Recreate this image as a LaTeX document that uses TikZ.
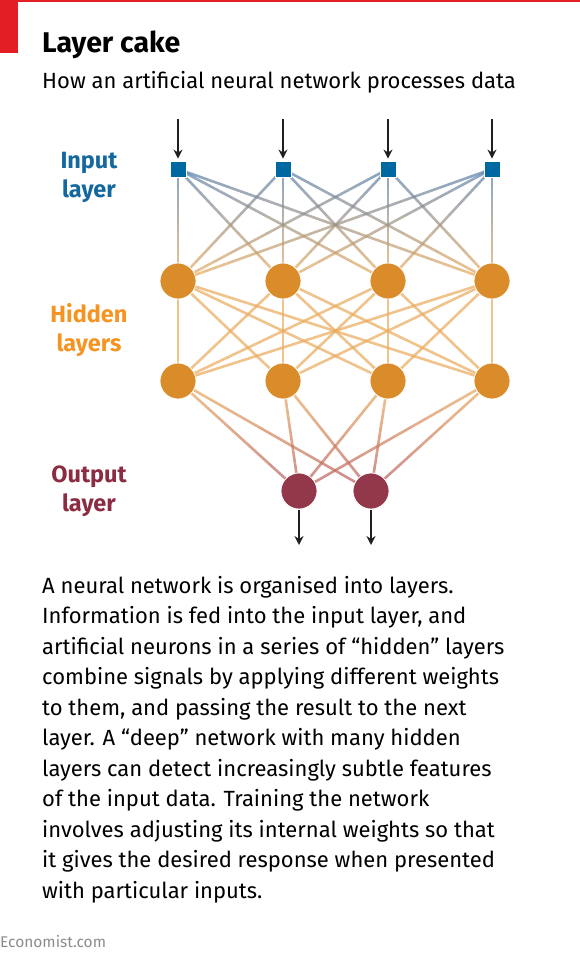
\documentclass[tikz,border=0pt]{standalone}
\usepackage{fontspec}
\setmainfont{Fira Sans}
\usetikzlibrary{arrows.meta,calc,backgrounds}
\definecolor{econred}{RGB}{227,30,36}
\definecolor{inblue}{RGB}{0,104,160}
\definecolor{linkblue}{RGB}{91,127,170}
\definecolor{hidorange}{RGB}{218,140,42}
\definecolor{linkorange}{RGB}{233,170,91}
\definecolor{outred}{RGB}{146,56,74}
\definecolor{linkred}{RGB}{184,91,91}
\definecolor{labblue}{RGB}{20,104,158}
\definecolor{laborange}{RGB}{245,148,35}
\definecolor{labred}{RGB}{140,44,66}

% connector that fades from one colour to another
\newcommand{\fadelink}[4]{%
  \foreach \k in {0,...,11}{%
    \pgfmathsetmacro{\ta}{\k/12}%
    \pgfmathsetmacro{\tb}{(\k+1)/12}%
    \pgfmathtruncatemacro{\pc}{100-\k*100/11}%
    \draw[link, color=#3!\pc!#4] ($(#1)!\ta!(#2)$) -- ($(#1)!\tb!(#2)$);
  }%
}

\begin{document}
\begin{tikzpicture}[x=1pt, y=-1pt, >={Stealth[length=9pt,width=9pt]},
    inp/.style={fill=inblue, draw=white, line width=0.8pt, minimum size=16pt, inner sep=0pt},
    hid/.style={circle, fill=hidorange, draw=white, line width=0.8pt, minimum size=36pt, inner sep=0pt},
    outp/.style={circle, fill=outred, draw=white, line width=0.8pt, minimum size=36pt, inner sep=0pt},
    link/.style={line width=2.6pt, opacity=0.7, line cap=butt},
    feed/.style={->, line width=1.6pt, black!88},
    lab/.style={font=\fontsize{23.5}{29}\selectfont\bfseries, align=center, inner sep=0pt}]
    \useasboundingbox (0,0) rectangle (580,960);

    % Header
    \fill[econred] (0,0) rectangle (580,1.6);
    \fill[econred] (0,0) rectangle (18,53);
    \node[anchor=base west, inner sep=0pt, font=\fontsize{28.5}{34}\selectfont\bfseries] (title) at (42,53) {Layer cake};
    \node[anchor=base west, inner sep=0pt, font=\fontsize{22}{26}\selectfont] (subtitle) at (42,89) {How an artificial neural network processes data};

    % Layers
    \foreach \i/\x in {1/178,2/283,3/388,4/492}{
        \node[inp] (in\i) at (\x,169) {};
        \node[hid] (ha\i) at (\x,281) {};
        \node[hid] (hb\i) at (\x,381) {};
        \coordinate (src\i) at (\x,119);
        \draw[feed, shorten >=2pt] (src\i) -- (in\i.north);
    }
    \foreach \j/\x in {1/299,2/371}{
        \node[outp] (out\j) at (\x,491) {};
        \coordinate (snk\j) at (\x,545);
        \draw[feed, shorten <=1pt] (out\j.south) -- (snk\j);
    }

    % Connections
    \begin{pgfonlayer}{background}
        \foreach \i in {1,...,4}{
            \foreach \j in {1,...,4}{
                \fadelink{in\i.center}{ha\j.center}{linkblue}{linkorange}
                \draw[link, linkorange] (ha\i.center) -- (hb\j.center);
            }
            \foreach \j in {1,2}{
                \fadelink{hb\i.center}{out\j.center}{linkorange}{linkred}
            }
        }
    \end{pgfonlayer}

    % Layer names
    \node[lab, labblue] (inlab) at (89,177) {Input\\layer};
    \node[lab, laborange] (hidlab) at (89,330) {Hidden\\layers};
    \node[lab, labred] (outlab) at (89,491) {Output\\layer};

    % Caption
    \node[anchor=north west, inner sep=0pt, align=left, font=\fontsize{22}{30.5}\selectfont] (caption) at (42,576) {%
        A neural network is organised into layers.\\
        Information is fed into the input layer, and\\
        artificial neurons in a series of “hidden” layers\\
        combine signals by applying different weights\\
        to them, and passing the result to the next\\
        layer. A “deep” network with many hidden\\
        layers can detect increasingly subtle features\\
        of the input data. Training the network\\
        involves adjusting its internal weights so that\\
        it gives the desired response when presented\\
        with particular inputs.};
    \node[anchor=base west, inner sep=0pt, font=\fontsize{15.5}{18}\selectfont, black!45] (source) at (0,947) {Economist.com};
\end{tikzpicture}
\end{document}
